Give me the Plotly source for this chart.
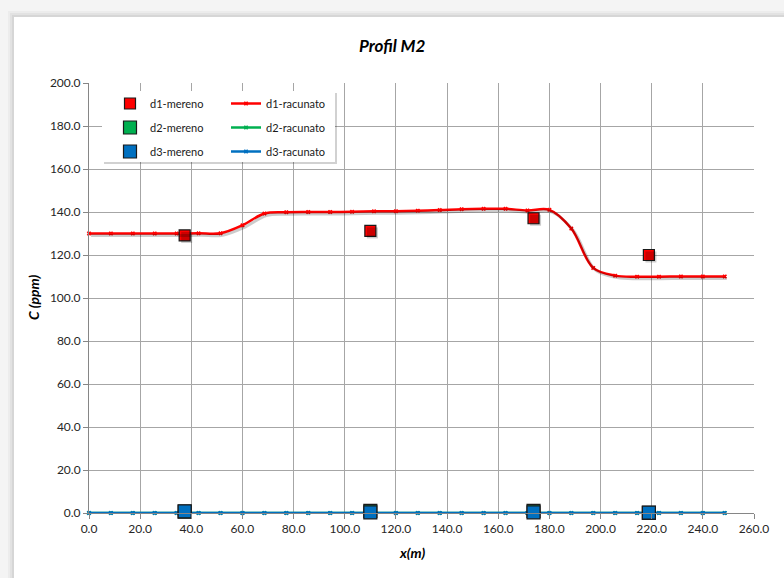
import plotly.graph_objects as go

# Measured concentrations (mereno)
x_mereno = [37.4, 110.0, 173.8, 218.9]
d1_mereno = [129.1, 131.2, 137.1, 120.0]
d2_mereno = [0.6, 1.0, 1.0, 0.1]
d3_mereno = [0.8, 0.3, 0.3, 0.2]

# Computed profile (racunato)
x_racunato = [0.0, 8.57, 17.14, 25.71, 34.29, 42.86, 51.43, 60.0, 68.57, 77.14,
              85.71, 94.29, 102.86, 111.43, 120.0, 128.57, 137.14, 145.71, 154.29, 162.86,
              171.43, 180.0, 188.57, 197.14, 205.71, 214.29, 222.86, 231.43, 240.0, 248.57]
d1_racunato = [130.0, 130.0, 130.0, 130.0, 130.0, 130.1, 130.1, 133.8, 139.3, 139.9,
               140.0, 140.0, 140.1, 140.3, 140.4, 140.6, 140.9, 141.3, 141.5, 141.5,
               140.7, 141.0, 132.3, 114.0, 110.4, 109.9, 109.9, 110.0, 110.0, 110.0]
d2_racunato = [0.0] * 30
d3_racunato = [0.0] * 30

x_ticks = [0, 20, 40, 60, 80, 100, 120, 140, 160, 180, 200, 220, 240, 260]
y_ticks = [0, 20, 40, 60, 80, 100, 120, 140, 160, 180, 200]

RED = "#ff0000"
GREEN = "#00b050"
BLUE = "#0070c0"
SHADOW = "rgba(0,0,0,0.2)"
FONT = "Lato"

fig = go.Figure()

# soft drop shadows: same data on axes shifted a couple of pixels
for ys in (d1_racunato, d2_racunato, d3_racunato):
    fig.add_trace(go.Scatter(x=x_racunato, y=ys, mode="lines", xaxis="x2", yaxis="y2",
                             line=dict(color=SHADOW, width=3, shape="spline", smoothing=1),
                             showlegend=False, hoverinfo="skip", cliponaxis=False))
for ys, sz in ((d1_mereno, 11), (d3_mereno, 13)):
    fig.add_trace(go.Scatter(x=x_mereno, y=ys, mode="markers", xaxis="x2", yaxis="y2",
                             marker=dict(symbol="square", size=sz, color=SHADOW),
                             showlegend=False, hoverinfo="skip", cliponaxis=False))

# computed lines
for name, ys, col in (("d1-racunato", d1_racunato, RED),
                      ("d2-racunato", d2_racunato, GREEN),
                      ("d3-racunato", d3_racunato, BLUE)):
    fig.add_trace(go.Scatter(x=x_racunato, y=ys, mode="lines+markers", name=name,
                             legend="legend2", legendgroup=name, cliponaxis=False,
                             line=dict(color=col, width=2.5, shape="spline", smoothing=1),
                             marker=dict(symbol="x", size=4, color=col, line=dict(width=0))))

# measured points
for name, ys, col, sz in (("d1-mereno", d1_mereno, RED, 11),
                          ("d2-mereno", d2_mereno, GREEN, 13),
                          ("d3-mereno", d3_mereno, BLUE, 13)):
    fig.add_trace(go.Scatter(x=x_mereno, y=ys, mode="markers", name=name,
                             legend="legend", legendgroup=name, cliponaxis=False,
                             marker=dict(symbol="square", size=sz, color=col,
                                         line=dict(color="#1a1a1a", width=1.2))))

W, H = 784, 578
L, R, T, B = 89, 30, 83, 65
pw, ph = W - L - R, H - T - B


def px(xp):
    return (xp - L) / pw


def py(yp):
    return (H - B - yp) / ph


shapes = []
# page shadow around the chart area
for i, a in enumerate((0.03, 0.04, 0.05)):
    d = 6 - 2 * i
    shapes.append(dict(type="rect", xref="paper", yref="paper", layer="below",
                       x0=px(14 - d), x1=px(800), y0=py(17 - d), y1=py(600),
                       fillcolor=f"rgba(0,0,0,{a})", line=dict(width=0)))
shapes.append(dict(type="rect", xref="paper", yref="paper", layer="below",
                   x0=px(14), x1=px(800), y0=py(17), y1=py(600),
                   fillcolor="white", line=dict(width=0)))
# legend frame with shadow
shapes.append(dict(type="rect", xref="paper", yref="paper", layer="above",
                   x0=px(104), x1=px(337), y0=py(93), y1=py(164),
                   fillcolor="rgba(0,0,0,0.18)", line=dict(width=0)))
shapes.append(dict(type="rect", xref="paper", yref="paper", layer="above",
                   x0=px(102), x1=px(335), y0=py(91), y1=py(162),
                   fillcolor="white", line=dict(width=0)))

axis_common = dict(showgrid=True, gridcolor="#a6a6a6", gridwidth=1,
                   showline=True, linecolor="#868686", linewidth=1,
                   ticks="outside", ticklen=5, tickcolor="#868686",
                   zeroline=False, tickformat=".1f",
                   tickfont=dict(family=FONT, size=12, color="#262626"))

legend_common = dict(bgcolor="rgba(0,0,0,0)", borderwidth=0, xanchor="left", yanchor="top",
                     orientation="v", traceorder="grouped", tracegroupgap=5,
                     font=dict(family=FONT, size=11, color="#1a1a1a"))

ann_common = dict(xref="paper", yref="paper", showarrow=False,
                  xanchor="center", yanchor="middle")

fig.update_layout(
    width=W, height=H,
    margin=dict(l=L, r=R, t=T, b=B),
    paper_bgcolor="#f4f4f4",
    plot_bgcolor="white",
    xaxis=dict(range=[0, 260], tickvals=x_ticks, **axis_common),
    yaxis=dict(range=[0, 200], tickvals=y_ticks, **axis_common),
    xaxis2=dict(overlaying="x", range=[-0.8, 259.2], visible=False),
    yaxis2=dict(overlaying="y", range=[0.93, 200.93], visible=False),
    shapes=shapes,
    legend=dict(x=px(110), y=py(89), **legend_common),
    legend2=dict(x=px(226), y=py(89), **legend_common),
    annotations=[
        dict(text="<b><i>Profil M2</i></b>", x=px(392), y=py(46),
             font=dict(family=FONT, size=17, color="black"), **ann_common),
        dict(text="<b><i>C (ppm)</i></b>", x=px(33), y=py(297), textangle=-90,
             font=dict(family=FONT, size=14, color="black"), **ann_common),
        dict(text="<b><i>x(m)</i></b>", x=px(412), y=py(552),
             font=dict(family=FONT, size=14, color="black"), **ann_common),
    ],
)

fig.write_html("out.html")
